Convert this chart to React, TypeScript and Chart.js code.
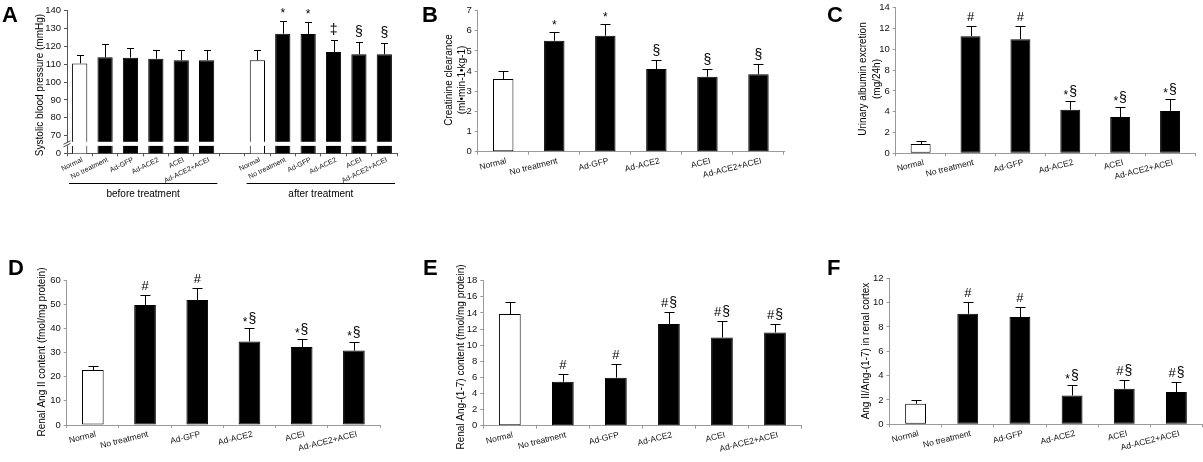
import React, { useEffect, useRef } from 'react';
import { Chart, registerables } from 'chart.js';

Chart.register(...registerables);

// ---------- data ----------
const GROUPS = ['Normal', 'No treatment', 'Ad-GFP', 'Ad-ACE2', 'ACEI', 'Ad-ACE2+ACEI'];
const BAR_FILLS = ['#ffffff', '#000000', '#000000', '#000000', '#000000', '#000000'];

// A: systolic blood pressure (mmHg)
const SBP_BEFORE = [110.5, 113.9, 113.7, 113.1, 112.2, 112.2];
const SBP_BEFORE_SD = [4.7, 7.3, 5.2, 4.9, 5.8, 5.8];
const SBP_BEFORE_SIG = ['', '', '', '', '', ''];
const SBP_AFTER = [112.2, 127.1, 126.9, 116.9, 115.6, 115.6];
const SBP_AFTER_SD = [5.8, 7.3, 6.9, 6.5, 7.0, 6.5];
const SBP_AFTER_SIG = ['', '*', '*', '‡', '§', '§'];
const SBP_PERIODS = ['before treatment', 'after treatment'];
const SBP_AXIS_FLOOR = 60.15; // value drawn at the "0" label below the axis break
const SBP_BREAK = [64.3, 66.6];
const SBP_TICK_VALUES = [SBP_AXIS_FLOOR, 70, 80, 90, 100, 110, 120, 130, 140];
const SBP_TICK_LABELS = ['0', '70', '80', '90', '100', '110', '120', '130', '140'];

// B: creatinine clearance
const CCR = [3.61, 5.51, 5.76, 4.1, 3.72, 3.84];
const CCR_SD = [0.39, 0.45, 0.56, 0.45, 0.38, 0.5];
const CCR_SIG = ['', '*', '*', '§', '§', '§'];

// C: urinary albumin excretion
const UAE = [0.89, 11.27, 10.98, 4.18, 3.48, 4.08];
const UAE_SD = [0.25, 1.01, 1.3, 0.88, 0.95, 1.14];
const UAE_SIG = ['', '#', '#', '*§', '*§', '*§'];

// D: renal Ang II
const ANG2 = [22.8, 49.7, 51.7, 34.6, 32.3, 30.8];
const ANG2_SD = [1.6, 4.1, 4.9, 5.5, 3.4, 3.7];
const ANG2_SIG = ['', '#', '#', '*§', '*§', '*§'];

// E: renal Ang-(1-7)
const ANG17 = [13.86, 5.46, 5.96, 12.62, 10.96, 11.58];
const ANG17_SD = [1.44, 0.91, 1.65, 1.45, 2.07, 1.04];
const ANG17_SIG = ['', '#', '#', '#§', '#§', '#§'];

// F: Ang II / Ang-(1-7)
const RATIO = [1.69, 9.08, 8.81, 2.37, 2.92, 2.65];
const RATIO_SD = [0.3, 1.01, 0.79, 0.85, 0.71, 0.81];
const RATIO_SIG = ['', '#', '#', '*§', '#§', '#§'];

// ---------- styling ----------
const SANS = "'Liberation Sans', Arial, Helvetica, sans-serif";
const NARROW = "'Liberation Sans Narrow', 'Arial Narrow', 'Liberation Sans', Arial, sans-serif";

type Spec = {
  letter: string;
  letterPos: [number, number];
  left: number; top: number; w: number; h: number;
  yAxisW: number; padTop: number; padRight: number; xAxisH: number;
  labels: string[];
  values: (number | null)[];
  errors: number[];
  sig: string[];
  fills: string[];
  barPct: number;
  yMin: number; yMax: number; yStep?: number;
  tickValues?: number[]; tickLabels?: string[];
  yTitle: string[]; yTitleX: number[]; yTitleCY: number;
  axisColor: string;
  labFont: number; labAngle: number; labDx: number; labDy: number;
  cap: number; sigGap: number;
  breakBand?: number[];
  periods?: string[];
};

const SPECS: Spec[] = [
  {
    letter: 'A', letterPos: [2, 22],
    left: 0, top: 0, w: 402, h: 230,
    yAxisW: 67, padTop: 10.7, padRight: 5, xAxisH: 76.7,
    labels: [...GROUPS, '', ...GROUPS],
    values: [...SBP_BEFORE, null, ...SBP_AFTER],
    errors: [...SBP_BEFORE_SD, 0, ...SBP_AFTER_SD],
    sig: [...SBP_BEFORE_SIG, '', ...SBP_AFTER_SIG],
    fills: [...BAR_FILLS, '#ffffff', ...BAR_FILLS],
    barPct: 0.6,
    yMin: SBP_AXIS_FLOOR, yMax: 140,
    tickValues: SBP_TICK_VALUES, tickLabels: SBP_TICK_LABELS,
    yTitle: ['Systolic blood pressure (mmHg)'], yTitleX: [40.7], yTitleCY: 85,
    axisColor: '#555555',
    labFont: 7, labAngle: 26, labDx: 1, labDy: 3,
    cap: 3.5, sigGap: 7,
    breakBand: SBP_BREAK,
    periods: SBP_PERIODS,
  },
  {
    letter: 'B', letterPos: [422, 22],
    left: 402, top: 0, w: 400, h: 230,
    yAxisW: 75.7, padTop: 10.7, padRight: 18, xAxisH: 78.3,
    labels: GROUPS, values: CCR, errors: CCR_SD, sig: CCR_SIG, fills: BAR_FILLS,
    barPct: 0.4, yMin: 0, yMax: 7, yStep: 1,
    yTitle: ['Creatinine clearance', '(ml•min-1•kg-1)'], yTitleX: [449, 462], yTitleCY: 80,
    axisColor: '#9a9a9a',
    labFont: 8.5, labAngle: 14, labDx: 2, labDy: 5,
    cap: 5, sigGap: 6,
  },
  {
    letter: 'C', letterPos: [827, 22],
    left: 802, top: 0, w: 401, h: 230,
    yAxisW: 93.7, padTop: 5.7, padRight: 8, xAxisH: 76.7,
    labels: GROUPS, values: UAE, errors: UAE_SD, sig: UAE_SIG, fills: BAR_FILLS,
    barPct: 0.4, yMin: 0, yMax: 14, yStep: 2,
    yTitle: ['Urinary albumin excretion', '(mg/24h)'], yTitleX: [863, 877], yTitleCY: 79,
    axisColor: '#9a9a9a',
    labFont: 8.5, labAngle: 14, labDx: 2, labDy: 5,
    cap: 5, sigGap: 6,
  },
  {
    letter: 'D', letterPos: [8, 275],
    left: 0, top: 230, w: 402, h: 232,
    yAxisW: 66.7, padTop: 50, padRight: 22, xAxisH: 37,
    labels: GROUPS, values: ANG2, errors: ANG2_SD, sig: ANG2_SIG, fills: BAR_FILLS,
    barPct: 0.415, yMin: 0, yMax: 60, yStep: 10,
    yTitle: ['Renal Ang II content (fmol/mg protein)'], yTitleX: [42], yTitleCY: 352,
    axisColor: '#9a9a9a',
    labFont: 8.5, labAngle: 14, labDx: 2, labDy: 5,
    cap: 5, sigGap: 6,
  },
  {
    letter: 'E', letterPos: [423, 275],
    left: 402, top: 230, w: 400, h: 232,
    yAxisW: 81.3, padTop: 50.7, padRight: 0.5, xAxisH: 36.3,
    labels: GROUPS, values: ANG17, errors: ANG17_SD, sig: ANG17_SIG, fills: BAR_FILLS,
    barPct: 0.41, yMin: 0, yMax: 18, yStep: 2,
    yTitle: ['Renal Ang-(1-7) content (fmol/mg protein)'], yTitleX: [461.7], yTitleCY: 357,
    axisColor: '#9a9a9a',
    labFont: 8.5, labAngle: 14, labDx: 2, labDy: 5,
    cap: 5, sigGap: 6,
  },
  {
    letter: 'F', letterPos: [827, 275],
    left: 802, top: 230, w: 401, h: 232,
    yAxisW: 87.5, padTop: 48.3, padRight: 0.5, xAxisH: 37.7,
    labels: GROUPS, values: RATIO, errors: RATIO_SD, sig: RATIO_SIG, fills: BAR_FILLS,
    barPct: 0.4, yMin: 0, yMax: 12, yStep: 2,
    yTitle: ['Ang II/Ang-(1-7) in renal cortex'], yTitleX: [866], yTitleCY: 351,
    axisColor: '#9a9a9a',
    labFont: 8.5, labAngle: 14, labDx: 2, labDy: 5,
    cap: 5, sigGap: 6,
  },
];

function sigFont(ch: string): number {
  if (ch === '*') return 12;
  if (ch === '#') return 13;
  return 14;
}

function drawSig(ctx: CanvasRenderingContext2D, text: string, cx: number, baseY: number) {
  const chars = Array.from(text);
  const widths = chars.map((c) => {
    ctx.font = `${sigFont(c)}px ${SANS}`;
    return ctx.measureText(c).width;
  });
  const gap = chars.length > 1 ? 1 : 0;
  const total = widths.reduce((a, b) => a + b, 0) + gap * (chars.length - 1);
  let x = cx - total / 2;
  ctx.textAlign = 'left';
  ctx.textBaseline = 'alphabetic';
  chars.forEach((c, k) => {
    ctx.font = `${sigFont(c)}px ${SANS}`;
    let y = baseY;
    if (c === '*' && chars.length > 1) y += 3;
    if (c === '*' && chars.length === 1) y += 2;
    ctx.fillText(c, x, y);
    x += widths[k] + gap;
  });
}

function makePlugin(spec: Spec) {
  return {
    id: 'panelDecor' + spec.letter,
    afterDatasetsDraw(chart: any) {
      const ctx: CanvasRenderingContext2D = chart.ctx;
      const xs = chart.scales.x;
      const ys = chart.scales.y;
      const area = chart.chartArea;
      const meta = chart.getDatasetMeta(0);
      ctx.save();

      // axis break (panel A)
      if (spec.breakBand) {
        const yTop = ys.getPixelForValue(spec.breakBand[1]);
        const yBot = ys.getPixelForValue(spec.breakBand[0]);
        ctx.fillStyle = '#ffffff';
        ctx.fillRect(area.left + 1, yTop, area.right - area.left - 1, yBot - yTop);
        ctx.fillRect(area.left - 2, yTop + 0.5, 4, yBot - yTop - 1);
        ctx.strokeStyle = '#333';
        ctx.lineWidth = 0.9;
        ctx.beginPath();
        ctx.moveTo(area.left - 3.5, yTop + 2.5);
        ctx.lineTo(area.left + 3.5, yTop - 1);
        ctx.moveTo(area.left - 3.5, yBot + 1);
        ctx.lineTo(area.left + 3.5, yBot - 2.5);
        ctx.stroke();
      }

      // error bars + significance marks
      ctx.strokeStyle = '#000';
      ctx.fillStyle = '#000';
      ctx.lineWidth = 1;
      meta.data.forEach((bar: any, i: number) => {
        const v = spec.values[i];
        if (v == null) return;
        const ye = Math.round(ys.getPixelForValue(v + spec.errors[i])) + 0.5;
        const xx = Math.round(bar.x) + 0.5;
        ctx.beginPath();
        ctx.moveTo(xx, bar.y);
        ctx.lineTo(xx, ye);
        ctx.moveTo(xx - spec.cap, ye);
        ctx.lineTo(xx + spec.cap, ye);
        ctx.stroke();
        if (spec.sig[i]) drawSig(ctx, spec.sig[i], bar.x, ye - spec.sigGap);
      });

      // category labels
      ctx.fillStyle = '#111';
      ctx.font = `${spec.labFont}px ${SANS}`;
      spec.labels.forEach((lab, i) => {
        if (!lab) return;
        const x = xs.getPixelForValue(i);
        ctx.save();
        ctx.translate(x + spec.labDx, area.bottom + spec.labDy);
        ctx.rotate((-spec.labAngle * Math.PI) / 180);
        ctx.textAlign = 'right';
        ctx.textBaseline = 'top';
        ctx.fillText(lab, 0, 0);
        ctx.restore();
      });

      // treatment periods (panel A)
      if (spec.periods) {
        const half = (area.right - area.left) / spec.labels.length / 2;
        const n = GROUPS.length;
        spec.periods.forEach((p, g) => {
          const first = g * (n + 1);
          const last = first + n - 1;
          const xl = xs.getPixelForValue(first) - half + 2;
          const xr = xs.getPixelForValue(last) + half - 2;
          const y = Math.round(area.bottom + 30) + 0.5;
          ctx.strokeStyle = '#000';
          ctx.lineWidth = 1;
          ctx.beginPath();
          ctx.moveTo(xl, y);
          ctx.lineTo(xr, y);
          ctx.stroke();
          ctx.font = `10px ${SANS}`;
          ctx.textAlign = 'center';
          ctx.textBaseline = 'middle';
          ctx.fillStyle = '#000';
          ctx.fillText(p, (xl + xr) / 2, area.bottom + 40.5);
        });
      }

      // y-axis title
      ctx.fillStyle = '#000';
      ctx.font = `10px ${SANS}`;
      spec.yTitle.forEach((line, k) => {
        ctx.save();
        ctx.translate(spec.yTitleX[k] - spec.left, spec.yTitleCY - spec.top);
        ctx.rotate(-Math.PI / 2);
        ctx.textAlign = 'center';
        ctx.textBaseline = 'middle';
        ctx.fillText(line, 0, 0);
        ctx.restore();
      });

      // panel letter
      ctx.font = `bold 22px ${SANS}`;
      ctx.textAlign = 'left';
      ctx.textBaseline = 'alphabetic';
      ctx.fillText(spec.letter, spec.letterPos[0] - spec.left, spec.letterPos[1] - spec.top);

      ctx.restore();
    },
  };
}

function buildConfig(spec: Spec): any {
  const yTicks: any = {
    color: '#111',
    padding: 3,
    font: { family: NARROW, size: 9.5, lineHeight: 1 },
  };
  if (spec.yStep) yTicks.stepSize = spec.yStep;
  if (spec.tickLabels) {
    yTicks.callback = (value: number) => {
      const k = (spec.tickValues || []).findIndex((t) => Math.abs(t - value) < 1e-6);
      return k >= 0 ? spec.tickLabels![k] : '';
    };
  }
  const yScale: any = {
    type: 'linear',
    min: spec.yMin,
    max: spec.yMax,
    ticks: yTicks,
    grid: { drawOnChartArea: false, drawTicks: true, tickLength: 3, color: spec.axisColor },
    border: { display: true, color: spec.axisColor },
    afterFit: (s: any) => {
      s.width = spec.yAxisW;
    },
  };
  if (spec.tickValues) {
    yScale.afterBuildTicks = (s: any) => {
      s.ticks = spec.tickValues!.map((v) => ({ value: v }));
    };
  }
  return {
    type: 'bar',
    data: {
      labels: spec.labels,
      datasets: [
        {
          data: spec.values,
          backgroundColor: spec.fills,
          borderColor: '#000000',
          borderWidth: 1,
          borderSkipped: false,
          barPercentage: spec.barPct,
          categoryPercentage: 1,
        },
      ],
    },
    options: {
      responsive: false,
      animation: false,
      devicePixelRatio: 1,
      events: [],
      layout: { padding: { left: 0, top: spec.padTop, right: spec.padRight, bottom: 0 } },
      plugins: { legend: { display: false }, tooltip: { enabled: false }, title: { display: false } },
      scales: {
        x: {
          type: 'category',
          offset: true,
          ticks: { display: false },
          grid: { offset: true, drawOnChartArea: false, drawTicks: true, tickLength: 3, color: spec.axisColor },
          border: { display: true, color: spec.axisColor },
          afterFit: (s: any) => {
            s.height = spec.xAxisH;
          },
        },
        y: yScale,
      },
    },
    plugins: [makePlugin(spec)],
  };
}

function Panel({ spec }: { spec: Spec }) {
  const ref = useRef<HTMLCanvasElement>(null);
  useEffect(() => {
    if (!ref.current) return;
    const chart = new Chart(ref.current, buildConfig(spec));
    return () => chart.destroy();
  }, [spec]);
  return (
    <canvas
      ref={ref}
      width={spec.w}
      height={spec.h}
      style={{ position: 'absolute', left: spec.left, top: spec.top, width: spec.w, height: spec.h, display: 'block' }}
    />
  );
}

export default function App() {
  return (
    <div style={{ position: 'fixed', left: 0, top: 0, width: 1203, height: 462, background: '#ffffff', overflow: 'hidden' }}>
      {SPECS.map((s) => (
        <Panel key={s.letter} spec={s} />
      ))}
    </div>
  );
}
